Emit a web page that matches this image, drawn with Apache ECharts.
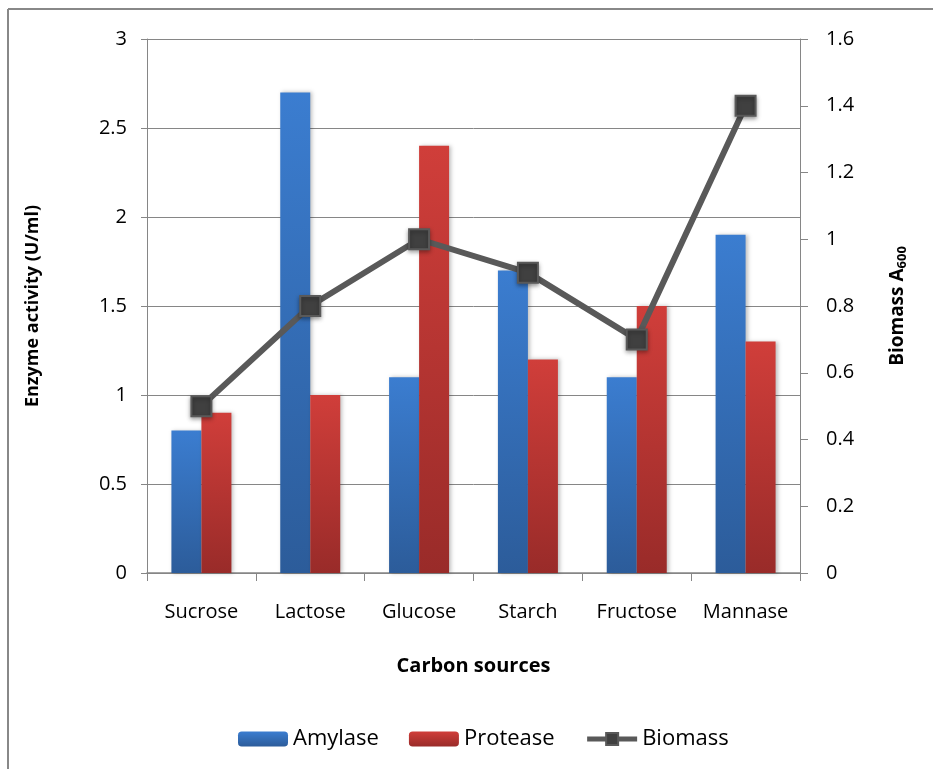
<!DOCTYPE html>
<html>
<head>
<meta charset="utf-8">
<script src="https://cdn.jsdelivr.net/npm/echarts@6/dist/echarts.min.js"></script>
<style>
  html, body { margin: 0; padding: 0; background: #fff; }
  #chart { width: 933px; height: 769px; }
</style>
</head>
<body>
<div id="chart"></div>
<script>
const categories = ['Sucrose', 'Lactose', 'Glucose', 'Starch', 'Fructose', 'Mannase']
const amylase = [0.8, 2.7, 1.1, 1.7, 1.1, 1.9]
const protease = [0.9, 1.0, 2.4, 1.2, 1.5, 1.3]
const biomass = [0.5, 0.8, 1.0, 0.9, 0.7, 1.4]

const fontFamily = '"Open Sans", Lato, sans-serif'
const axisGray = '#868686'

const barGradient = (top, bottom) => new echarts.graphic.LinearGradient(0, 0, 0, 1, [
  { offset: 0, color: top },
  { offset: 1, color: bottom }
])

const chart = echarts.init(document.getElementById('chart'))

const option = {
  animation: false,
  backgroundColor: '#fff',
  textStyle: { fontFamily: fontFamily },
  graphic: [
    { type: 'line', shape: { x1: 8, y1: 9, x2: 933, y2: 9 }, style: { stroke: '#888', lineWidth: 2 } },
    { type: 'line', shape: { x1: 8, y1: 9, x2: 8, y2: 769 }, style: { stroke: '#888', lineWidth: 2 } }
  ],
  grid: {
    left: 147,
    right: 133,
    top: 39,
    bottom: 196
  },
  legend: {
    top: 723,
    left: 233,
    itemWidth: 50,
    itemHeight: 15,
    itemGap: 30,
    textStyle: { fontSize: 22, color: '#000', fontFamily: fontFamily },
    data: [
      'Amylase',
      'Protease',
      { name: 'Biomass', lineStyle: { width: 5, color: '#595959' } }
    ]
  },
  xAxis: {
    type: 'category',
    data: categories,
    name: 'Carbon sources',
    nameLocation: 'middle',
    nameGap: 83,
    nameTextStyle: { fontSize: 20, fontWeight: 'bold', color: '#000' },
    axisLine: { lineStyle: { color: axisGray, width: 1.5 } },
    axisTick: { show: true, interval: 0, length: 8, alignWithLabel: false, lineStyle: { color: axisGray } },
    axisLabel: { interval: 0, fontSize: 20, color: '#000', margin: 29 }
  },
  yAxis: [
    {
      type: 'value',
      min: 0,
      max: 3,
      interval: 0.5,
      name: 'Enzyme activity (U/ml)',
      nameLocation: 'middle',
      nameGap: 105,
      nameRotate: 90,
      nameTextStyle: { fontSize: 18, fontWeight: 'bold', color: '#000' },
      axisLine: { show: true, lineStyle: { color: axisGray } },
      axisTick: { show: true, length: 6, lineStyle: { color: axisGray } },
      axisLabel: { fontSize: 20, color: '#000', margin: 20 },
      splitLine: { show: true, lineStyle: { color: axisGray, width: 1 } }
    },
    {
      type: 'value',
      min: 0,
      max: 1.6,
      interval: 0.2,
      position: 'right',
      name: '{n|Biomass A}{s|600}',
      nameLocation: 'middle',
      nameGap: 86,
      nameRotate: 90,
      nameTextStyle: {
        rich: {
          n: { fontSize: 19, fontWeight: 'bold', color: '#000', fontFamily: fontFamily },
          s: { fontSize: 13, fontWeight: 'bold', color: '#000', fontFamily: fontFamily, padding: [10, 0, 0, 0] }
        }
      },
      axisLine: { show: true, lineStyle: { color: axisGray } },
      axisTick: { show: true, length: 8, lineStyle: { color: axisGray } },
      axisLabel: { fontSize: 20, color: '#000', margin: 26 },
      splitLine: { show: false }
    }
  ],
  series: [
    {
      name: 'Amylase',
      type: 'bar',
      yAxisIndex: 0,
      data: amylase,
      barWidth: 30,
      barGap: '0%',
      itemStyle: {
        color: barGradient('#3b7dd0', '#2c5c9a'),
        shadowBlur: 4,
        shadowColor: 'rgba(0,0,0,0.25)',
        shadowOffsetX: 2
      }
    },
    {
      name: 'Protease',
      type: 'bar',
      yAxisIndex: 0,
      data: protease,
      barWidth: 30,
      barGap: '0%',
      itemStyle: {
        color: barGradient('#d03e3a', '#992b29'),
        shadowBlur: 4,
        shadowColor: 'rgba(0,0,0,0.25)',
        shadowOffsetX: 2
      }
    },
    {
      name: 'Biomass',
      type: 'line',
      yAxisIndex: 1,
      data: biomass,
      symbol: 'rect',
      symbolSize: 20,
      lineStyle: { color: '#595959', width: 6 },
      itemStyle: {
        color: '#404040',
        borderColor: '#595959',
        borderWidth: 2,
        shadowBlur: 4,
        shadowColor: 'rgba(0,0,0,0.35)',
        shadowOffsetY: 2
      },
      z: 5
    }
  ]
}

chart.setOption(option)
</script>
</body>
</html>
